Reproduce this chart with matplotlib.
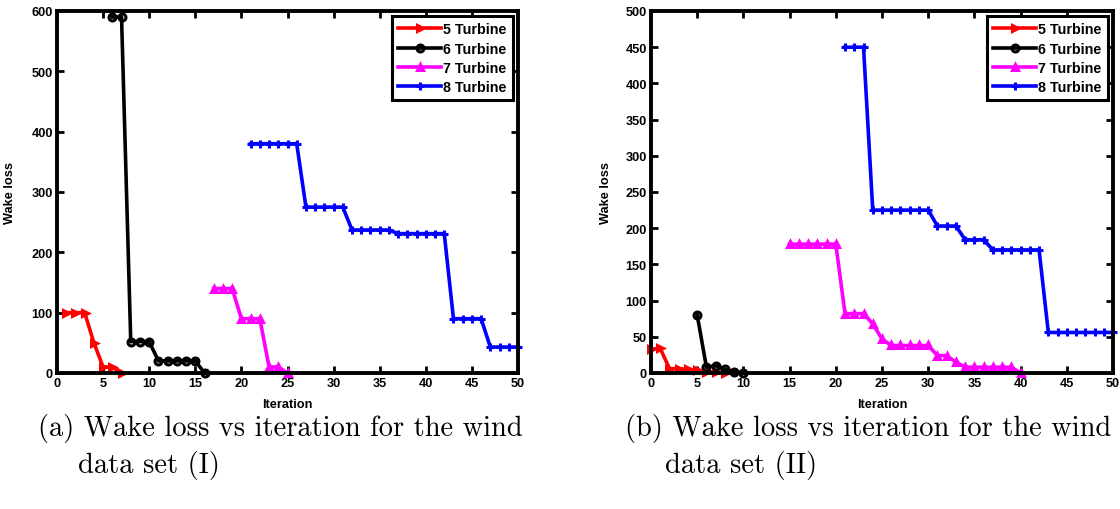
import numpy as np
import matplotlib
matplotlib.use("Agg")
import matplotlib.pyplot as plt

## data (iteration, wake loss)
# (a) wind data set (I)
a5_x = [1, 2, 3, 4, 5, 6, 7]
a5_y = [100, 100, 100, 50, 10, 10, 0]
a6_x = [6, 7, 8, 9, 10, 11, 12, 13, 14, 15, 16]
a6_y = [590, 590, 52, 52, 52, 20, 20, 20, 20, 20, 0]
a7_x = [17, 18, 19, 20, 21, 22, 23, 24, 25]
a7_y = [140, 140, 140, 90, 90, 90, 10, 10, 0]
a8_x = list(range(21, 51))
a8_y = [380] * 6 + [275] * 5 + [237] * 5 + [231] * 6 + [90] * 4 + [43] * 4

# (b) wind data set (II)
b5_x = [0, 1, 2, 3, 4, 5, 6, 7, 8]
b5_y = [33, 34, 6, 6, 5, 4, 2, 1, 0]
b6_x = [5, 6, 7, 8, 9, 10]
b6_y = [80, 8, 10, 5, 2, 0]
b7_x = list(range(15, 41))
b7_y = [178] * 6 + [82] * 3 + [68, 47] + [38] * 5 + [24, 24, 15] + [8] * 6 + [0]
b8_x = list(range(21, 51))
b8_y = [450] * 3 + [225] * 7 + [203] * 3 + [184] * 3 + [170] * 6 + [56] * 8

labels = ["5 Turbine", "6 Turbine", "7 Turbine", "8 Turbine"]
colors = ["#ff0000", "#000000", "#ff00ff", "#0000ff"]
markers = [">", "o", "^", "+"]

tick_font = {"family": "Liberation Sans", "weight": "bold", "size": 9.2}


def draw_panel(ax, series, ymax, ystep):
    for (x, y), lab, c, m in zip(series, labels, colors, markers):
        face = "none" if m == "o" else c
        size = 5.5 if m == "+" else 5
        ax.plot(x, y, color=c, lw=2.6, marker=m, ms=size, mew=2.2,
                mfc=face, mec=c, label=lab, clip_on=False, zorder=3)

    ax.set_xlim(0, 50)
    ax.set_ylim(0, ymax)
    ax.set_xticks(np.arange(0, 51, 5))
    ax.set_yticks(np.arange(0, ymax + 1, ystep))
    ax.tick_params(direction="in", top=True, right=True, length=5, width=2,
                   pad=3)
    for lbl in ax.get_xticklabels() + ax.get_yticklabels():
        lbl.set_fontproperties(tick_font)
    for s in ax.spines.values():
        s.set_linewidth(2.8)
        s.set_zorder(4)

    ax.set_xlabel("Iteration", fontdict=tick_font)
    ax.set_ylabel("Wake loss", fontdict=tick_font)
    ax.xaxis.set_label_coords(0.5, -0.068)

    leg = ax.legend(loc="upper right", prop={"family": "Liberation Sans",
                    "weight": "bold", "size": 10.3}, handlelength=3.0,
                    handletextpad=0.15, labelspacing=0.36, borderpad=0.45,
                    borderaxespad=0.35, fancybox=False, framealpha=1,
                    edgecolor="black")
    leg.get_frame().set_linewidth(2.2)
    return ax


fig = plt.figure(figsize=(11.2, 5.1), dpi=100)

ax1 = fig.add_axes([57 / 1120, 136 / 510, 461 / 1120, 362 / 510])
draw_panel(ax1, [(a5_x, a5_y), (a6_x, a6_y), (a7_x, a7_y), (a8_x, a8_y)], 600, 100)
ax1.yaxis.set_label_coords(-0.089, 0.5)

ax2 = fig.add_axes([651 / 1120, 136 / 510, 462 / 1120, 362 / 510])
draw_panel(ax2, [(b5_x, b5_y), (b6_x, b6_y), (b7_x, b7_y), (b8_x, b8_y)], 500, 50)
ax2.yaxis.set_label_coords(-0.084, 0.5)

## sub-figure captions
cap = {"family": "cmr10", "size": 20.5}
fig.text(38 / 1120, 1 - 429 / 510, "(a) Wake loss vs iteration for the wind",
         fontdict=cap, va="center", ha="left")
fig.text(78 / 1120, 1 - 466 / 510, "data set (I)", fontdict=cap,
         va="center", ha="left")
fig.text(625 / 1120, 1 - 429 / 510, "(b) Wake loss vs iteration for the wind",
         fontdict=cap, va="center", ha="left")
fig.text(665 / 1120, 1 - 466 / 510, "data set (II)", fontdict=cap,
         va="center", ha="left")

fig.savefig("out.png", dpi=100)
